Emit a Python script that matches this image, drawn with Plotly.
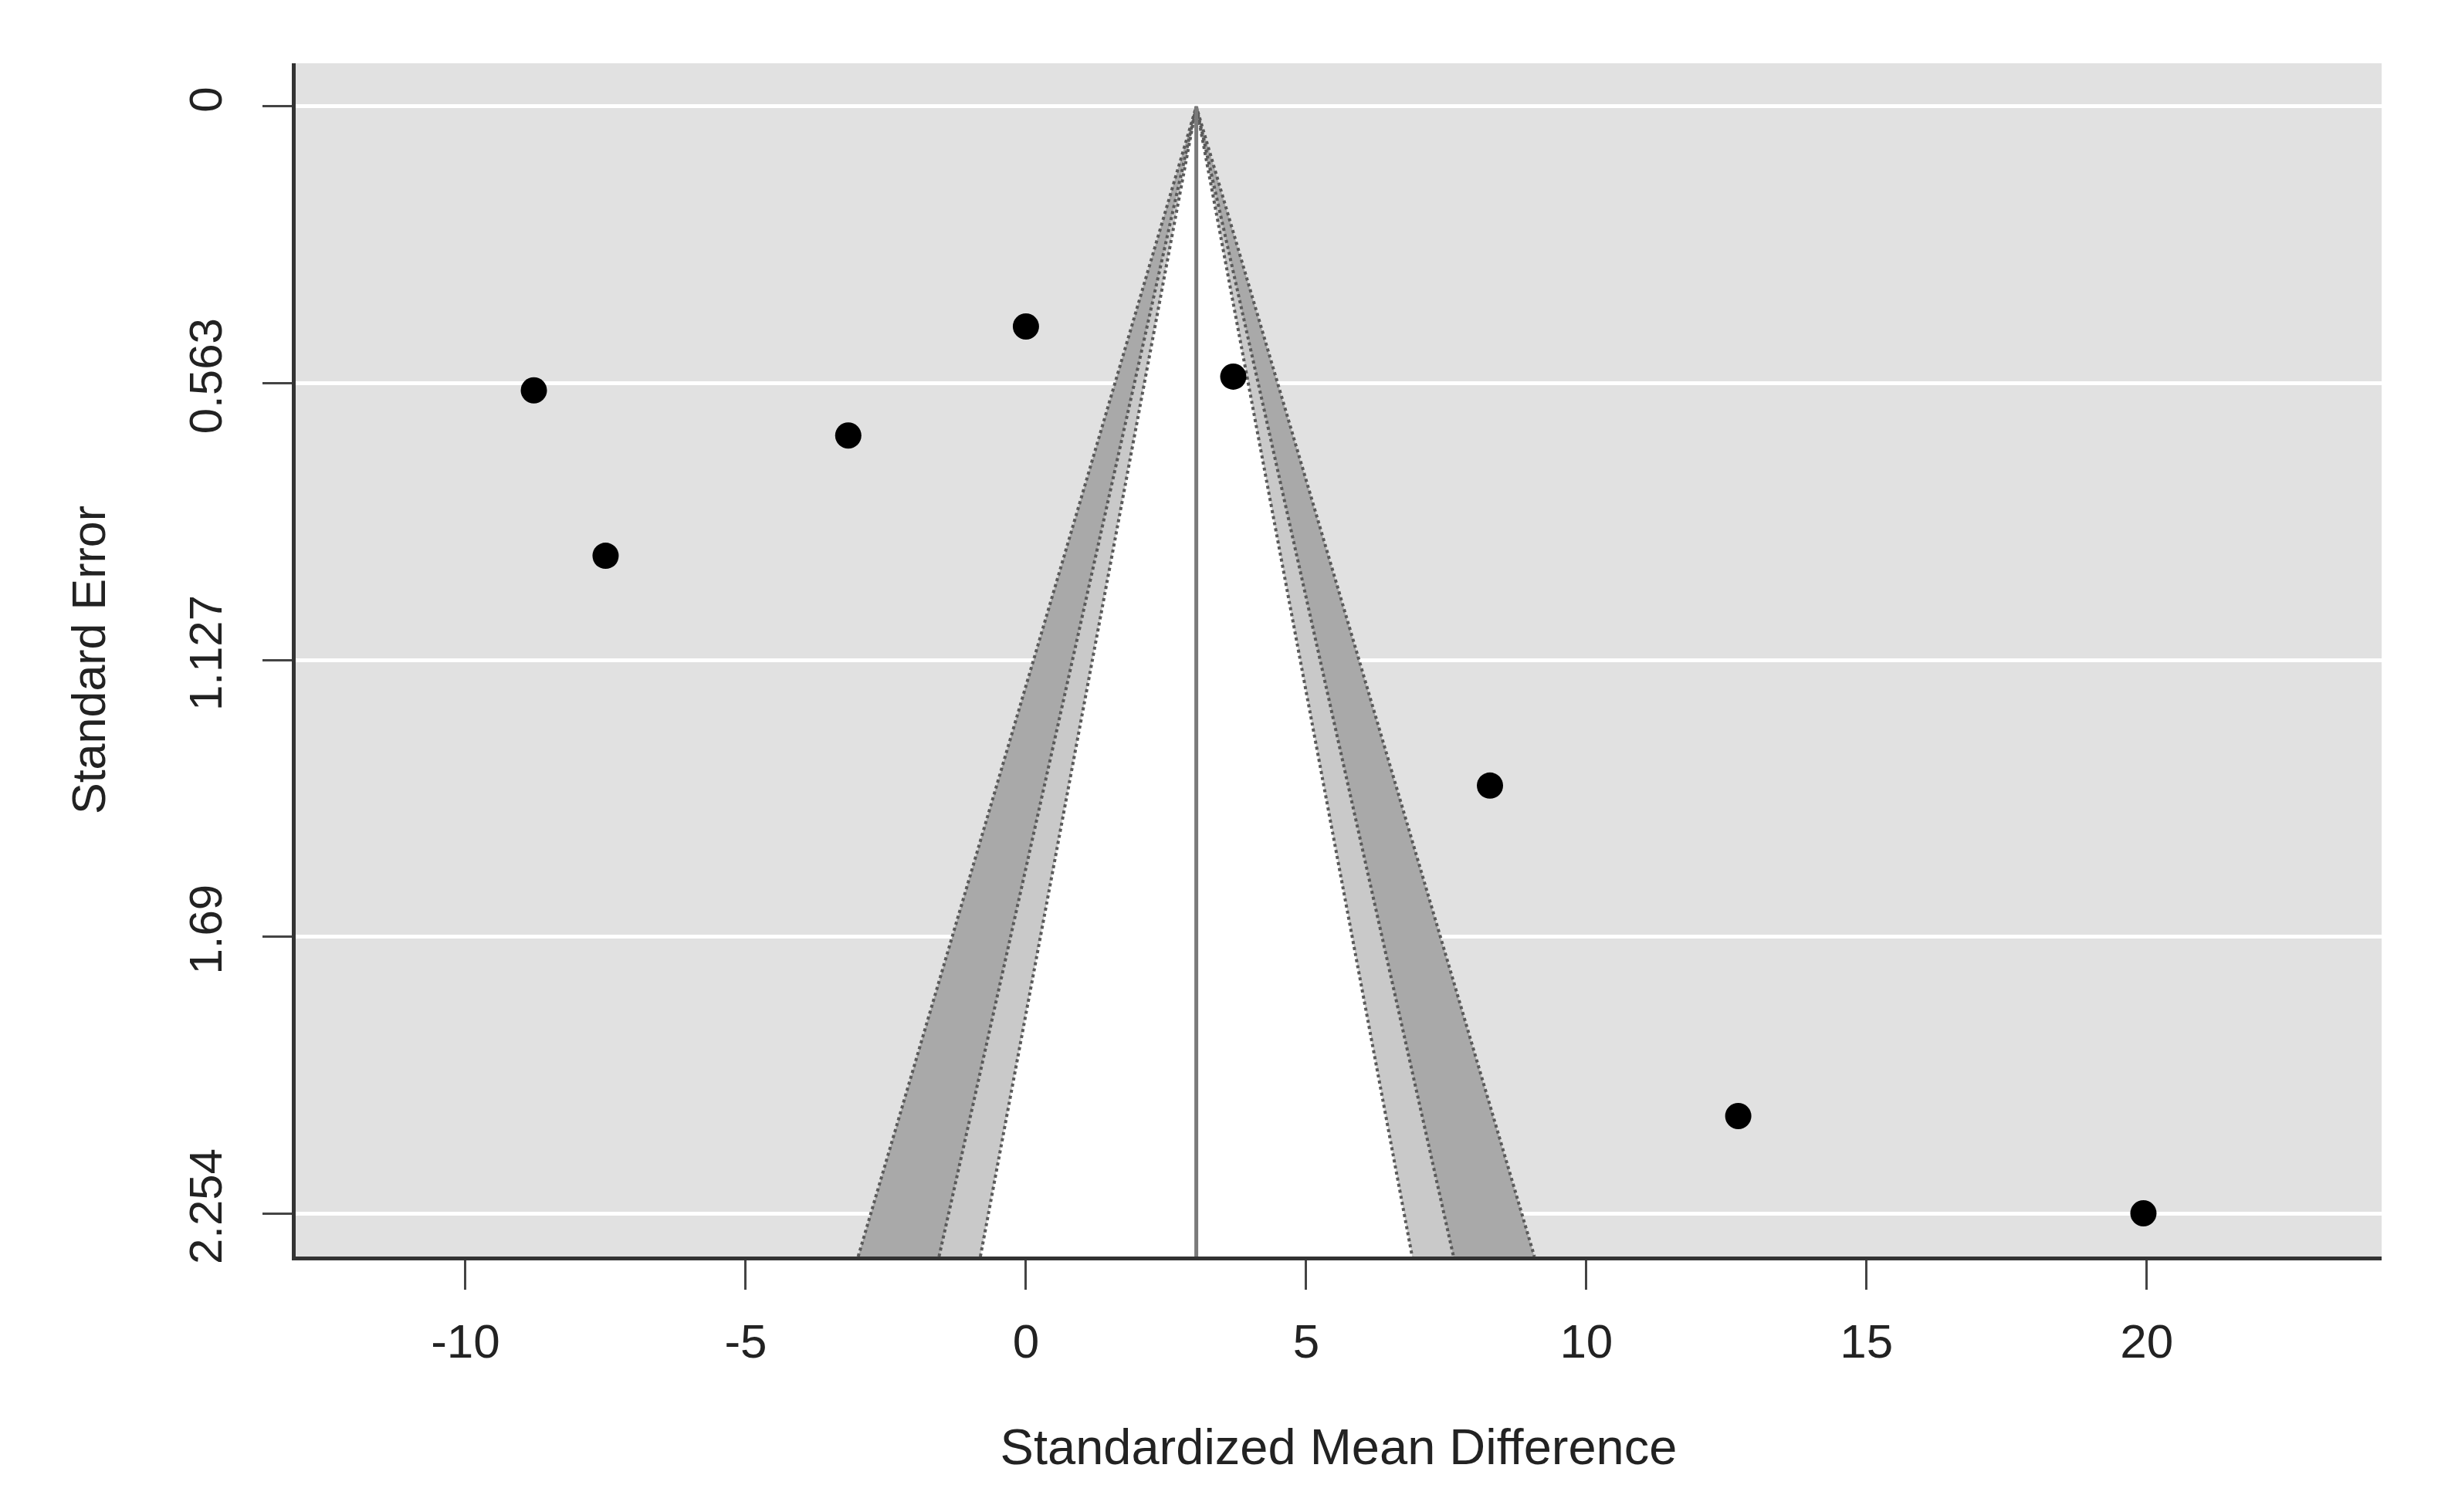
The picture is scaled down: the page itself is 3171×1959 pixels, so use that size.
import plotly.graph_objects as go

# study effects (standardized mean difference) and their standard errors
smd = [-8.78, -7.50, -3.17, 0.00, 3.70, 8.28, 12.71, 19.94]
se = [0.578, 0.915, 0.670, 0.448, 0.550, 1.383, 2.056, 2.254]

# pooled estimate and contour levels (99%, 95%, 90%)
pooled = 3.04
z_levels = [2.576, 1.96, 1.645]
band_colors = ["#A9A9A9", "#C9C9C9", "#FFFFFF"]

x_ticks = [-10, -5, 0, 5, 10, 15, 20]
x_ticklabels = ["-10", "-5", "0", "5", "10", "15", "20"]
y_ticks = [0, 0.563, 1.127, 1.69, 2.254]
y_ticklabels = ["0", "0.563", "1.127", "1.69", "2.254"]

x_range = [-13.03, 24.19]
y_range = [2.342, -0.088]
se_bottom = y_range[0]

FONT = "Liberation Sans, Arial, sans-serif"

fig = go.Figure()

# contour bands, widest first
for z, col in zip(z_levels, band_colors):
    lo = pooled - z * se_bottom
    hi = pooled + z * se_bottom
    fig.add_trace(go.Scatter(
        x=[lo, pooled, hi, lo], y=[se_bottom, 0, se_bottom, se_bottom],
        mode="lines", fill="toself", fillcolor=col,
        line=dict(width=0), hoverinfo="skip", showlegend=False
    ))
for z in z_levels:
    fig.add_trace(go.Scatter(
        x=[pooled - z * se_bottom, pooled, pooled + z * se_bottom],
        y=[se_bottom, 0, se_bottom],
        mode="lines", line=dict(color="#5A5A5A", width=4, dash="dot"),
        hoverinfo="skip", showlegend=False
    ))

# centre line
fig.add_trace(go.Scatter(
    x=[pooled, pooled], y=[0, se_bottom], mode="lines",
    line=dict(color="#7A7A7A", width=5), hoverinfo="skip", showlegend=False
))

# studies
fig.add_trace(go.Scatter(
    x=smd, y=se, mode="markers",
    marker=dict(color="black", size=34, line=dict(width=0)),
    showlegend=False
))

fig.update_xaxes(
    range=x_range, tickvals=x_ticks, ticktext=x_ticklabels,
    showgrid=False, zeroline=False,
    showline=True, linecolor="#333333", linewidth=5,
    ticks="outside", ticklen=38, tickwidth=3, tickcolor="#444444",
    ticklabelstandoff=14,
    tickfont=dict(family=FONT, size=62, color="#222222"),
    title=dict(text="Standardized Mean Difference", standoff=82,
               font=dict(family=FONT, size=65, color="#222222"))
)
fig.update_yaxes(
    range=y_range, tickvals=y_ticks, ticktext=y_ticklabels, tickangle=-90,
    showgrid=True, gridcolor="white", gridwidth=5, zeroline=False,
    showline=True, linecolor="#333333", linewidth=5,
    ticks="outside", ticklen=38, tickwidth=3, tickcolor="#444444",
    ticklabelstandoff=29,
    tickfont=dict(family=FONT, size=60, color="#222222"),
    title=dict(text="Standard Error", standoff=78,
               font=dict(family=FONT, size=61, color="#222222"))
)

fig.update_layout(
    width=3171, height=1959,
    margin=dict(l=375, r=94, t=74, b=339),
    plot_bgcolor="#E1E1E1", paper_bgcolor="white",
    font=dict(family=FONT)
)

fig.write_html("out.html")
